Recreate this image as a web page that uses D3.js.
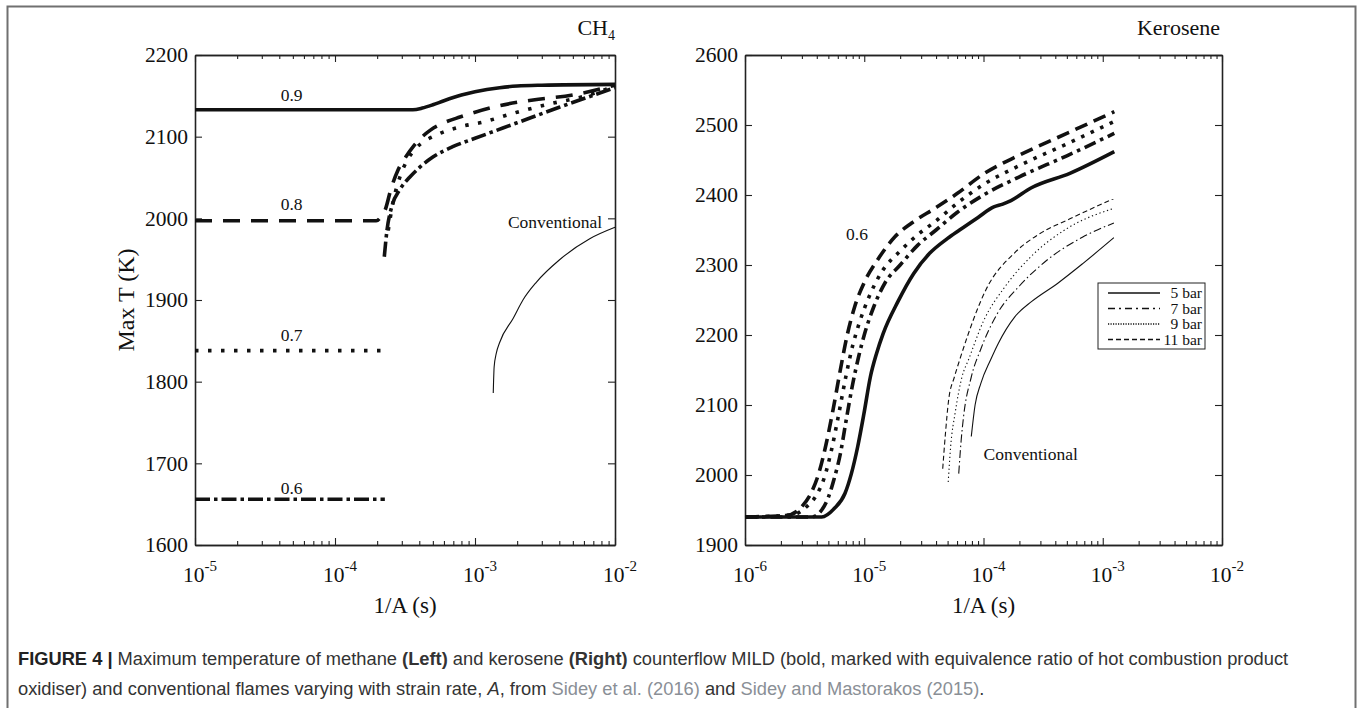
<!DOCTYPE html>
<html>
<head>
<meta charset="utf-8">
<script src="https://cdn.jsdelivr.net/npm/d3@7"></script>
<style>
  body { margin: 0; background: #fff; }
  svg { display: block; }
</style>
</head>
<body>
<svg id="fig" width="1357" height="708"></svg>
<script>
// ---- CH4 panel data: [1/A (s), Max T (K)] ----
const ch4Phi09 = [[1e-5, 2133], [3.6e-4, 2133], [4.2e-4, 2135], [5e-4, 2139], [6e-4, 2144], [8e-4, 2151],
  [1e-3, 2155], [1.5e-3, 2160], [2e-3, 2162], [3e-3, 2163], [1e-2, 2164]];
const ch4Phi08 = [[1e-5, 1997], [1.97e-4, 1997], [2.15e-4, 2003], [2.3e-4, 2012], [2.5e-4, 2035], [2.8e-4, 2058],
  [3.2e-4, 2075], [3.7e-4, 2090], [4.8e-4, 2108], [6e-4, 2117], [7.8e-4, 2124], [1.5e-3, 2138],
  [2.6e-3, 2145], [5e-3, 2151], [1e-2, 2163]];
const ch4Phi07Low = [[1e-5, 1838], [2.47e-4, 1838]];
const ch4Phi07High = [[2.4e-4, 1985], [2.6e-4, 2020], [2.9e-4, 2050], [3.3e-4, 2072], [3.8e-4, 2086], [5.3e-4, 2102],
  [7.8e-4, 2112], [1.15e-3, 2118], [2e-3, 2130], [3.4e-3, 2140], [5.9e-3, 2149], [1e-2, 2162]];
const ch4Phi06Low = [[1e-5, 1656], [2.27e-4, 1656]];
const ch4Phi06High = [[2.25e-4, 1953], [2.35e-4, 1985], [2.55e-4, 2015], [2.9e-4, 2035], [3.4e-4, 2050], [4e-4, 2062],
  [5e-4, 2075], [7e-4, 2088], [1e-3, 2098], [2e-3, 2117], [4e-3, 2136], [1e-2, 2160]];
const ch4Conventional = [[1.35e-3, 1786], [1.37e-3, 1818], [1.42e-3, 1835], [1.5e-3, 1848], [1.88e-3, 1878],
  [2.2e-3, 1900], [2.75e-3, 1922], [4e-3, 1949], [6.6e-3, 1975], [1e-2, 1989]];

// ---- Kerosene panel data ----
const keroMild5 = [[1e-6, 1940], [4.4e-6, 1940], [5.6e-6, 1952], [6.9e-6, 1974], [7.8e-6, 2002], [8.8e-6, 2040],
  [9.95e-6, 2088], [1.125e-5, 2140], [1.27e-5, 2174], [1.44e-5, 2202], [1.92e-5, 2248], [2.6e-5, 2288],
  [3.55e-5, 2317], [5e-5, 2338], [6.3e-5, 2350], [9e-5, 2368], [1.22e-4, 2383], [1.45e-4, 2387],
  [1.7e-4, 2392], [2.5e-4, 2410], [5.3e-4, 2431], [1.25e-3, 2462]];
const keroMild7 = [[1e-6, 1940], [3.6e-6, 1940], [4.4e-6, 1950], [5e-6, 1968], [5.6e-6, 1995], [6.3e-6, 2030],
  [7e-6, 2075], [8e-6, 2130], [9e-6, 2170], [1e-5, 2200], [1.2e-5, 2240], [1.5e-5, 2275], [2e-5, 2300],
  [2.8e-5, 2328], [4e-5, 2350], [6e-5, 2375], [1e-4, 2400], [2e-4, 2426], [5e-4, 2456], [1.25e-3, 2488]];
const keroMild9 = [[1e-6, 1940], [2.5e-6, 1943], [3.3e-6, 1955], [4e-6, 1972], [4.6e-6, 1995], [5.3e-6, 2035],
  [6e-6, 2080], [7e-6, 2140], [8e-6, 2185], [9e-6, 2215], [1.1e-5, 2255], [1.4e-5, 2290], [2e-5, 2320],
  [2.8e-5, 2343], [4e-5, 2363], [6e-5, 2388], [1e-4, 2415], [2e-4, 2442], [5e-4, 2473], [1.25e-3, 2505]];
const keroMild11 = [[1e-6, 1940], [2.2e-6, 1942], [3e-6, 1955], [3.6e-6, 1975], [4.2e-6, 2005], [4.8e-6, 2045],
  [5.5e-6, 2095], [6.3e-6, 2150], [7.2e-6, 2200], [8.3e-6, 2240], [1e-5, 2275], [1.3e-5, 2308],
  [1.8e-5, 2340], [2.5e-5, 2360], [4e-5, 2382], [6e-5, 2402], [1e-4, 2430], [2e-4, 2457], [5e-4, 2488],
  [1.25e-3, 2519]];
const keroConv5 = [[7.9e-5, 2055], [8.5e-5, 2100], [9.5e-5, 2131], [1.15e-4, 2165], [1.33e-4, 2188],
  [1.83e-4, 2226], [2.54e-4, 2248], [4.2e-4, 2274], [6.8e-4, 2302], [1.24e-3, 2339]];
const keroConv7 = [[6.2e-5, 2002], [6.5e-5, 2050], [6.8e-5, 2083], [7.9e-5, 2140], [9.5e-5, 2180],
  [1.3e-4, 2230], [2e-4, 2270], [3.3e-4, 2305], [6.8e-4, 2340], [1.24e-3, 2360]];
const keroConv9 = [[5.06e-5, 1990], [5.3e-5, 2040], [5.8e-5, 2090], [6.6e-5, 2140], [7.5e-5, 2165],
  [1e-4, 2220], [1.5e-4, 2268], [2.5e-4, 2312], [5e-4, 2352], [1.24e-3, 2381]];
const keroConv11 = [[4.55e-5, 2009], [4.8e-5, 2060], [5.1e-5, 2107], [5.7e-5, 2140], [6.3e-5, 2164],
  [7.4e-5, 2200], [8.8e-5, 2235], [1.03e-4, 2262], [1.84e-4, 2318], [2.98e-4, 2345], [5.3e-4, 2366],
  [1.24e-3, 2395]];

// ---- ticks and labels ----
const ch4Decades = [-5, -4, -3, -2];
const keroDecades = [-6, -5, -4, -3, -2];
const ch4TTicks = [1600, 1700, 1800, 1900, 2000, 2100, 2200];
const keroTTicks = [1900, 2000, 2100, 2200, 2300, 2400, 2500, 2600];
const phiLabels = ["0.9", "0.8", "0.7", "0.6"];
const legendLabels = ["5 bar", "7 bar", "9 bar", "11 bar"];

const serif = "'Liberation Serif', 'Times New Roman', serif";
const svg = d3.select("#fig");

// outer frame
svg.append("rect")
  .attr("x", 7.5).attr("y", 6.5)
  .attr("width", 1348).attr("height", 740)
  .attr("fill", "none").attr("stroke", "#707070").attr("stroke-width", 2);

const dash = {
  solid: null,
  boldDash: "17,11",
  boldDot: "3.5,9.5",
  boldDashDot: "15,4,3.5,4",
  kDash: "13,7",
  kDot: "3.5,7",
  kDashDot: "12,5,3.5,5",
  thinDash: "5,3",
  thinDot: "1.3,2.7",
  thinDashDot: "8,3,1.5,3"
};

function panel(left, right, top, bottom, decades, tTicks) {
  const x = d3.scaleLog()
    .domain([Math.pow(10, decades[0]), Math.pow(10, decades[decades.length - 1])])
    .range([left, right]);
  const y = d3.scaleLinear()
    .domain([tTicks[0], tTicks[tTicks.length - 1]])
    .range([bottom, top]);
  const g = svg.append("g");

  const major = decades.map(d => Math.pow(10, d));
  const minor = [];
  decades.slice(0, -1).forEach(d => {
    for (let k = 2; k <= 9; k++) minor.push(k * Math.pow(10, d));
  });

  const axisStyle = sel => {
    sel.select(".domain").attr("stroke", "#222").attr("stroke-width", 1.6);
    sel.selectAll(".tick line").attr("stroke", "#222").attr("stroke-width", 1.1);
  };

  g.append("g").attr("transform", `translate(0,${bottom})`)
    .call(d3.axisBottom(x).tickValues(major).tickSize(-7).tickSizeOuter(0).tickFormat(""))
    .call(axisStyle);
  g.append("g").attr("transform", `translate(0,${bottom})`)
    .call(d3.axisBottom(x).tickValues(minor).tickSize(-4).tickSizeOuter(0).tickFormat(""))
    .call(axisStyle);
  g.append("g").attr("transform", `translate(0,${top})`)
    .call(d3.axisTop(x).tickValues(major).tickSize(-7).tickSizeOuter(0).tickFormat(""))
    .call(axisStyle);
  g.append("g").attr("transform", `translate(0,${top})`)
    .call(d3.axisTop(x).tickValues(minor).tickSize(-4).tickSizeOuter(0).tickFormat(""))
    .call(axisStyle);

  const yl = g.append("g").attr("transform", `translate(${left},0)`)
    .call(d3.axisLeft(y).tickValues(tTicks).tickSize(-7).tickSizeOuter(0).tickPadding(7)
      .tickFormat(d3.format("d")))
    .call(axisStyle);
  yl.selectAll(".tick text")
    .attr("font-family", serif).attr("font-size", 21.5).attr("fill", "#111");
  g.append("g").attr("transform", `translate(${right},0)`)
    .call(d3.axisRight(y).tickValues(tTicks).tickSize(-7).tickSizeOuter(0).tickFormat(""))
    .call(axisStyle);

  // 10^n labels
  major.forEach((v, i) => {
    const t = g.append("text")
      .attr("x", x(v) - 12).attr("y", bottom + 37)
      .attr("font-family", serif).attr("font-size", 21.5).attr("fill", "#111");
    t.append("tspan").text("10");
    t.append("tspan").attr("dy", -11).attr("font-size", 15).text(String(decades[i]));
  });

  g.append("text")
    .attr("x", (left + right) / 2).attr("y", bottom + 68)
    .attr("text-anchor", "middle")
    .attr("font-family", serif).attr("font-size", 23).attr("fill", "#111")
    .text("1/A (s)");

  return { x, y, g, left, right, top, bottom };
}

function drawLine(p, data, pattern, width) {
  const line = d3.line()
    .x(d => p.x(d[0]))
    .y(d => p.y(d[1]))
    .curve(d3.curveMonotoneX);
  p.g.append("path")
    .datum(data)
    .attr("d", line)
    .attr("fill", "none")
    .attr("stroke", "#111")
    .attr("stroke-width", width)
    .attr("stroke-dasharray", pattern);
}

function label(p, text, xv, tv, size, anchor) {
  p.g.append("text")
    .attr("x", p.x(xv)).attr("y", p.y(tv))
    .attr("text-anchor", anchor || "middle")
    .attr("font-family", serif).attr("font-size", size).attr("fill", "#111")
    .text(text);
}

// ---------- left panel: CH4 ----------
const pL = panel(195, 615, 55, 545, ch4Decades, ch4TTicks);
drawLine(pL, ch4Conventional, dash.solid, 1.1);
drawLine(pL, ch4Phi06Low, dash.boldDashDot, 3.6);
drawLine(pL, ch4Phi06High, dash.boldDashDot, 3.6);
drawLine(pL, ch4Phi07Low, dash.boldDot, 3.6);
drawLine(pL, ch4Phi07High, dash.boldDot, 3.6);
drawLine(pL, ch4Phi08, dash.boldDash, 3.6);
drawLine(pL, ch4Phi09, dash.solid, 3.6);

label(pL, phiLabels[0], 4.9e-5, 2144, 17.5);
label(pL, phiLabels[1], 4.9e-5, 2010, 17.5);
label(pL, phiLabels[2], 4.9e-5, 1850, 17.5);
label(pL, phiLabels[3], 4.9e-5, 1663, 17.5);
label(pL, "Conventional", 8.1e-3, 1988, 17.5, "end");

// title CH4
const ch4Title = pL.g.append("text")
  .attr("x", pL.right).attr("y", 35).attr("text-anchor", "end")
  .attr("font-family", serif).attr("font-size", 22).attr("fill", "#111");
ch4Title.append("tspan").text("CH");
ch4Title.append("tspan").attr("dy", 5).attr("font-size", 14).text("4");

pL.g.append("text")
  .attr("transform", `translate(134,${(55 + 545) / 2}) rotate(-90)`)
  .attr("text-anchor", "middle")
  .attr("font-family", serif).attr("font-size", 24).attr("fill", "#111")
  .text("Max T (K)");

// ---------- right panel: Kerosene ----------
const pR = panel(745, 1222, 55, 545, keroDecades, keroTTicks);
drawLine(pR, keroConv5, dash.solid, 1.1);
drawLine(pR, keroConv7, dash.thinDashDot, 1.1);
drawLine(pR, keroConv9, dash.thinDot, 1.1);
drawLine(pR, keroConv11, dash.thinDash, 1.1);
drawLine(pR, keroMild11, dash.kDash, 3.6);
drawLine(pR, keroMild9, dash.kDot, 3.6);
drawLine(pR, keroMild7, dash.kDashDot, 3.6);
drawLine(pR, keroMild5, dash.solid, 3.6);

label(pR, phiLabels[3], 8.7e-6, 2336, 17.5);
label(pR, "Conventional", 1.0e-4, 2022, 17.5, "start");

pR.g.append("text")
  .attr("x", pR.right - 2).attr("y", 35).attr("text-anchor", "end")
  .attr("font-family", serif).attr("font-size", 22).attr("fill", "#111")
  .text("Kerosene");

// legend
const leg = pR.g.append("g").attr("transform", `translate(${pR.right - 124},283)`);
leg.append("rect")
  .attr("width", 107).attr("height", 66)
  .attr("fill", "#fff").attr("stroke", "#222").attr("stroke-width", 1);
const legStyles = [dash.solid, "7,4,2,4", "1.2,1.3", "5,3"];
legendLabels.forEach((name, i) => {
  const yy = 10 + i * 15.5;
  leg.append("line")
    .attr("x1", 10).attr("x2", 62).attr("y1", yy).attr("y2", yy)
    .attr("stroke", "#111").attr("stroke-width", 1.6)
    .attr("stroke-dasharray", legStyles[i]);
  leg.append("text")
    .attr("x", 104).attr("y", yy + 5).attr("text-anchor", "end")
    .attr("font-family", serif).attr("font-size", 15.5).attr("fill", "#111")
    .text(name);
});

// ---------- caption ----------
const cap = svg.append("g")
  .attr("font-family", "'Liberation Sans', Arial, sans-serif")
  .attr("font-size", 18.3).attr("fill", "#333");
const l1 = cap.append("text").attr("x", 18).attr("y", 665);
l1.append("tspan").attr("font-weight", "bold").attr("fill", "#222").text("FIGURE 4 | ");
l1.append("tspan").text("Maximum temperature of methane ");
l1.append("tspan").attr("font-weight", "bold").text("(Left)");
l1.append("tspan").text(" and kerosene ");
l1.append("tspan").attr("font-weight", "bold").text("(Right)");
l1.append("tspan").text(" counterflow MILD (bold, marked with equivalence ratio of hot combustion product");
const l2 = cap.append("text").attr("x", 18).attr("y", 695);
l2.append("tspan").text("oxidiser) and conventional flames varying with strain rate, ");
l2.append("tspan").attr("font-style", "italic").text("A");
l2.append("tspan").text(", from ");
l2.append("tspan").attr("fill", "#8a8f96").text("Sidey et al. (2016)");
l2.append("tspan").text(" and ");
l2.append("tspan").attr("fill", "#8a8f96").text("Sidey and Mastorakos (2015)");
l2.append("tspan").text(".");
</script>
</body>
</html>
